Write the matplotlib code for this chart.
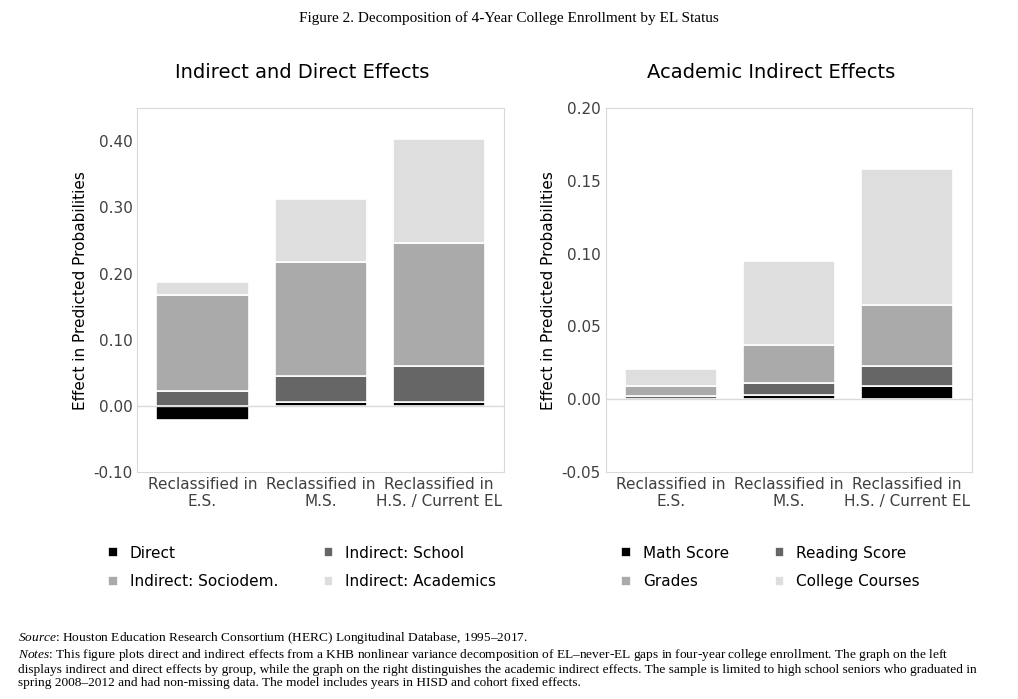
import matplotlib
matplotlib.use("Agg")
import matplotlib.pyplot as plt
import numpy as np

plt.rcParams['font.family'] = ['DejaVu Sans']
plt.rcParams['mathtext.fontset'] = 'custom'
plt.rcParams['mathtext.it'] = 'Liberation Serif:italic'
plt.rcParams['mathtext.rm'] = 'Liberation Serif'

groups = ["Reclassified in\nE.S.", "Reclassified in\nM.S.", "Reclassified in\nH.S. / Current EL"]
left_labels = ["Direct", "Indirect: School", "Indirect: Sociodem.", "Indirect: Academics"]
direct = [-0.022, 0.005, 0.006]
school = [0.023, 0.040, 0.054]
sociodem = [0.144, 0.173, 0.186]
academics = [0.020, 0.095, 0.158]

right_labels = ["Math Score", "Reading Score", "Grades", "College Courses"]
math_s = [0.0002, 0.003, 0.009]
reading_s = [0.0018, 0.008, 0.014]
grades = [0.007, 0.026, 0.042]
college = [0.012, 0.058, 0.093]

colors = ["#000000", "#666666", "#aaaaaa", "#dedede"]

fig = plt.figure(figsize=(10.18, 6.99), dpi=100)
fig.text(0.5, 0.968, "Figure 2. Decomposition of 4-Year College Enrollment by EL Status",
         ha='center', fontsize=11, family='Liberation Serif')

def stacked(ax, series, labels, ylim, yticks, title):
    x = np.arange(len(groups))
    pos = np.zeros(3); neg = np.zeros(3)
    handles = []
    for s, c, l in zip(series, colors, labels):
        s = np.array(s)
        bottom = np.where(s >= 0, pos, neg)
        h = ax.bar(x, s, 0.78, bottom=bottom, color=c, edgecolor='white', linewidth=1.2, label=l)
        handles.append(h)
        pos = pos + np.where(s >= 0, s, 0)
        neg = neg + np.where(s < 0, s, 0)
    ax.set_ylim(*ylim)
    ax.set_yticks(yticks)
    ax.set_xlim(-0.55, 2.55)
    ax.set_xticks(x)
    ax.set_xticklabels(groups, fontsize=11, color='#404040')
    ax.tick_params(length=0, labelsize=11, colors='#404040')
    ax.axhline(0, color='#d9d9d9', lw=1)
    for sp in ax.spines.values():
        sp.set_color('#d9d9d9')
    ax.set_ylabel("Effect in Predicted Probabilities", fontsize=11)
    ax.set_title(title, fontsize=14, pad=22, x=0.45)
    order = [0, 2, 1, 3]
    ax.legend([handles[i] for i in order], [labels[i] for i in order],
              ncol=2, loc='upper center', bbox_to_anchor=(0.45, -0.165), frameon=False,
              fontsize=11, handlelength=0.6, handleheight=0.6, columnspacing=3, labelspacing=0.9)

ax1 = fig.add_axes([0.135, 0.325, 0.36, 0.52])
stacked(ax1, [direct, school, sociodem, academics], left_labels, (-0.1, 0.45),
        [-0.1, 0, 0.1, 0.2, 0.3, 0.4], "Indirect and Direct Effects")
ax1.set_yticklabels(["-0.10", "0.00", "0.10", "0.20", "0.30", "0.40"])

ax2 = fig.add_axes([0.595, 0.325, 0.36, 0.52])
stacked(ax2, [math_s, reading_s, grades, college], right_labels, (-0.05, 0.2),
        [-0.05, 0, 0.05, 0.1, 0.15, 0.2], "Academic Indirect Effects")
ax2.set_yticklabels(["-0.05", "0.00", "0.05", "0.10", "0.15", "0.20"])

notes = ("$\\it{Source}$: Houston Education Research Consortium (HERC) Longitudinal Database, 1995\u20132017.\n"
         "$\\it{Notes}$: This figure plots direct and indirect effects from a KHB nonlinear variance decomposition of EL\u2013never-EL gaps in four-year college enrollment. The graph on the left\n"
         "displays indirect and direct effects by group, while the graph on the right distinguishes the academic indirect effects. The sample is limited to high school seniors who graduated in\n"
         "spring 2008\u20132012 and had non-missing data. The model includes years in HISD and cohort fixed effects.")
fig.text(0.018, 0.015, notes, fontsize=9.6, family='Liberation Serif', va='bottom', linespacing=1.1)
fig.savefig("out.png", dpi=100)
